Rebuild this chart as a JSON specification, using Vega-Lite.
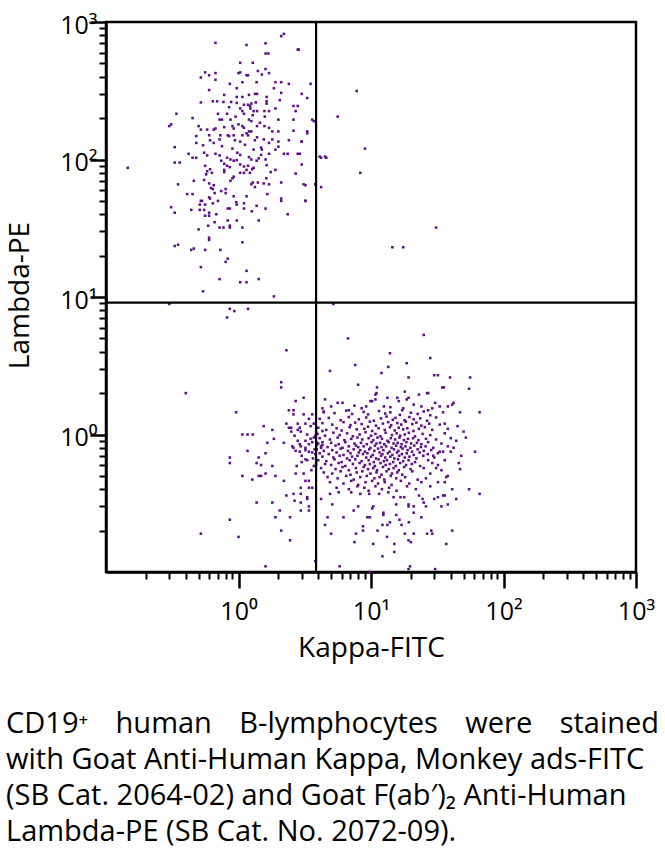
{
  "$schema": "https://vega.github.io/schema/vega-lite/v6.json",
  "autosize": {"type": "none"},
  "padding": {"left": 106, "top": 22, "right": 29, "bottom": 284},
  "width": 530,
  "height": 550,
  "background": "white",
  "config": {
    "view": {"stroke": "black", "strokeWidth": 2.5},
    "font": "Open Sans",
    "axis": {"grid": false, "domainColor": "black", "domainWidth": 2.5, "tickColor": "black", "labelColor": "black", "titleColor": "black", "labelFont": "Open Sans", "titleFont": "Open Sans", "titleFontWeight": "normal", "labelFontSize": 25, "titleFontSize": 28, "labelOverlap": false, "labelFlush": false, "labelBound": false}
  },
  "title": {
    "text": ["CD19⁺ \u00a0\u00a0\u2009human \u00a0\u00a0\u2009B-lymphocytes \u00a0\u00a0\u2009were \u00a0\u00a0\u2009stained", "with Goat Anti-Human Kappa, Monkey ads-FITC", "(SB Cat. 2064-02) and Goat F(ab′)₂ Anti-Human", "Lambda-PE (SB Cat. No. 2072-09)."],
    "orient": "bottom", "anchor": "start", "font": "Open Sans", "fontSize": 29, "fontWeight": "normal", "color": "black", "lineHeight": 36, "offset": 48
  },
  "datasets": {
    "cells": [
      {"x":2.1,"y":790},{"x":2.2,"y":820},{"x":0.67,"y":705},{"x":1.15,"y":680},{"x":1.6,"y":700},{"x":1.6,"y":590},{"x":1.68,"y":590},{"x":2.8,"y":630},{"x":1.03,"y":505},{"x":1.28,"y":505},
      {"x":0.56,"y":430},{"x":0.6,"y":410},{"x":0.67,"y":425},{"x":0.52,"y":395},{"x":0.67,"y":380},{"x":1.0,"y":425},{"x":1.03,"y":430},{"x":1.15,"y":410},{"x":1.18,"y":410},{"x":1.4,"y":440},
      {"x":1.6,"y":455},{"x":1.5,"y":415},{"x":1.7,"y":425},{"x":1.9,"y":365},{"x":2.1,"y":365},{"x":2.4,"y":355},{"x":3.5,"y":355},{"x":0.86,"y":355},{"x":1.07,"y":365},{"x":1.37,"y":365},
      {"x":0.6,"y":320},{"x":0.97,"y":330},{"x":1.85,"y":330},{"x":0.78,"y":295},{"x":0.97,"y":285},{"x":1.07,"y":285},{"x":1.2,"y":295},{"x":1.33,"y":300},{"x":1.38,"y":300},{"x":1.63,"y":285},
      {"x":2.1,"y":305},{"x":3.0,"y":300},{"x":3.3,"y":280},{"x":0.52,"y":260},{"x":0.64,"y":265},{"x":0.69,"y":265},{"x":0.77,"y":262},{"x":0.88,"y":262},{"x":0.97,"y":258},{"x":1.1,"y":250},
      {"x":1.18,"y":250},{"x":1.25,"y":255},{"x":1.63,"y":265},{"x":1.63,"y":255},{"x":2.05,"y":270},{"x":2.6,"y":245},{"x":2.8,"y":245},{"x":0.34,"y":215},{"x":0.45,"y":200},{"x":0.3,"y":175},
      {"x":0.33,"y":123},{"x":0.7,"y":215},{"x":0.72,"y":195},{"x":0.75,"y":195},{"x":0.82,"y":215},{"x":0.87,"y":195},{"x":1.03,"y":235},{"x":1.07,"y":225},{"x":1.22,"y":245},{"x":1.23,"y":235},
      {"x":1.1,"y":215},{"x":1.3,"y":225},{"x":1.38,"y":225},{"x":1.57,"y":225},{"x":1.58,"y":205},{"x":1.7,"y":225},{"x":1.9,"y":235},{"x":2.7,"y":225},{"x":2.0,"y":195},{"x":2.6,"y":195},
      {"x":3.6,"y":195},{"x":0.5,"y":175},{"x":0.52,"y":165},{"x":0.58,"y":165},{"x":0.65,"y":165},{"x":0.67,"y":168},{"x":0.78,"y":172},{"x":0.9,"y":175},{"x":0.92,"y":168},{"x":1.07,"y":175},
      {"x":1.1,"y":170},{"x":1.2,"y":195},{"x":1.25,"y":190},{"x":1.2,"y":160},{"x":1.25,"y":160},{"x":1.38,"y":175},{"x":1.57,"y":175},{"x":1.7,"y":170},{"x":1.8,"y":160},{"x":2.0,"y":160},
      {"x":2.6,"y":162},{"x":3.3,"y":155},{"x":0.48,"y":148},{"x":0.48,"y":132},{"x":0.54,"y":127},{"x":0.6,"y":150},{"x":0.61,"y":138},{"x":0.65,"y":132},{"x":0.72,"y":140},{"x":0.73,"y":150},
      {"x":0.83,"y":150},{"x":0.85,"y":148},{"x":0.92,"y":150},{"x":0.94,"y":138},{"x":1.03,"y":135},{"x":1.07,"y":150},{"x":1.15,"y":155},{"x":1.18,"y":150},{"x":1.33,"y":138},{"x":1.38,"y":145},
      {"x":1.48,"y":122},{"x":1.5,"y":118},{"x":1.7,"y":132},{"x":1.8,"y":140},{"x":2.0,"y":135},{"x":2.0,"y":124},{"x":2.4,"y":138},{"x":3.0,"y":135},{"x":1.9,"y":118},{"x":2.35,"y":110},
      {"x":2.2,"y":110},{"x":0.42,"y":110},{"x":0.45,"y":103},{"x":0.48,"y":103},{"x":0.55,"y":112},{"x":0.58,"y":107},{"x":0.67,"y":110},{"x":0.72,"y":107},{"x":0.82,"y":103},{"x":0.87,"y":100},
      {"x":0.98,"y":112},{"x":1.03,"y":108},{"x":1.2,"y":104},{"x":1.25,"y":100},{"x":1.42,"y":102},{"x":1.48,"y":108},{"x":1.7,"y":110},{"x":2.8,"y":110},{"x":2.9,"y":110},{"x":0.33,"y":95},{"x":0.36,"y":95},
      {"x":0.56,"y":90},{"x":0.74,"y":98},{"x":0.78,"y":93},{"x":0.82,"y":90},{"x":0.86,"y":88},{"x":0.78,"y":84},{"x":0.78,"y":81},{"x":0.92,"y":98},{"x":0.97,"y":99},{"x":1.03,"y":92},{"x":1.1,"y":89},
      {"x":1.18,"y":90},{"x":1.37,"y":98},{"x":1.63,"y":91},{"x":1.9,"y":84},{"x":0.58,"y":82},{"x":0.61,"y":85},{"x":0.63,"y":80},{"x":0.57,"y":78},{"x":1.03,"y":80},{"x":1.1,"y":80},{"x":1.15,"y":84},
      {"x":1.22,"y":80},{"x":1.27,"y":85},{"x":1.3,"y":87},{"x":1.75,"y":81},{"x":2.7,"y":79},{"x":0.46,"y":70},{"x":0.35,"y":66},{"x":0.55,"y":71},{"x":0.6,"y":67},{"x":0.65,"y":65},{"x":0.64,"y":61},
      {"x":0.87,"y":70},{"x":0.9,"y":73},{"x":0.92,"y":75},{"x":0.8,"y":61},{"x":1.25,"y":66},{"x":1.28,"y":68},{"x":1.33,"y":63},{"x":1.4,"y":68},{"x":1.55,"y":67},{"x":1.62,"y":73},{"x":1.7,"y":66},
      {"x":2.1,"y":68},{"x":3.1,"y":66},{"x":0.41,"y":56},{"x":0.45,"y":56},{"x":0.62,"y":62},{"x":0.66,"y":57},{"x":0.74,"y":59},{"x":0.8,"y":57},{"x":0.6,"y":53},{"x":0.61,"y":52},{"x":0.52,"y":50},
      {"x":0.53,"y":50},{"x":0.51,"y":47},{"x":0.56,"y":47},{"x":0.64,"y":48},{"x":0.7,"y":50},{"x":0.92,"y":54},{"x":0.96,"y":49},{"x":1.15,"y":54},{"x":1.65,"y":56},{"x":2.1,"y":52},{"x":2.1,"y":50},
      {"x":3.2,"y":50},{"x":0.31,"y":45},{"x":0.33,"y":41},{"x":0.44,"y":43},{"x":0.51,"y":43},{"x":0.55,"y":43},{"x":0.6,"y":41},{"x":0.56,"y":39},{"x":0.6,"y":39},{"x":0.68,"y":40},{"x":0.83,"y":44},
      {"x":0.86,"y":44},{"x":1.1,"y":44},{"x":1.26,"y":42},{"x":1.37,"y":46},{"x":1.6,"y":44},{"x":2.35,"y":40},{"x":0.97,"y":47},{"x":1.1,"y":48},{"x":0.83,"y":36},{"x":0.97,"y":36},{"x":1.42,"y":36},
      {"x":0.5,"y":31},{"x":0.59,"y":33},{"x":0.66,"y":35},{"x":0.72,"y":32},{"x":0.77,"y":32},{"x":0.86,"y":33},{"x":0.86,"y":32},{"x":1.07,"y":32},{"x":0.6,"y":27},{"x":0.6,"y":26},{"x":1.07,"y":25},
      {"x":0.33,"y":23.5},{"x":0.35,"y":24},{"x":0.44,"y":22},{"x":0.46,"y":22.5},{"x":0.56,"y":22},{"x":0.73,"y":22},{"x":0.83,"y":19},{"x":0.8,"y":18},{"x":0.52,"y":16.5},{"x":1.15,"y":15.5},
      {"x":0.72,"y":13.5},{"x":1.03,"y":12.8},{"x":1.15,"y":12.8},{"x":1.42,"y":13.5},{"x":0.54,"y":11},{"x":1.85,"y":10.1},{"x":0.3,"y":8.9},{"x":0.86,"y":8.2},{"x":0.93,"y":7.9},{"x":1.18,"y":8.2},
      {"x":0.82,"y":7.1},{"x":0.146,"y":87},{"x":0.31,"y":180},{"x":2.85,"y":630},{"x":4.1,"y":105},{"x":4.5,"y":105},{"x":3.8,"y":66},{"x":4.2,"y":63},
      {"x":7.8,"y":315},{"x":5.6,"y":205},{"x":3.7,"y":190},{"x":3.3,"y":160},{"x":3.0,"y":135},{"x":9.0,"y":120},{"x":4.2,"y":103},{"x":4.6,"y":103},{"x":8.3,"y":80},{"x":3.0,"y":92},{"x":3.2,"y":65},{"x":3.2,"y":50},{"x":31,"y":32},{"x":14.5,"y":23},{"x":17.5,"y":23},{"x":5.2,"y":8.9},
      {"x":1.12,"y":128},{"x":1.3,"y":118},{"x":1.45,"y":185},{"x":0.95,"y":205},{"x":1.35,"y":260},{"x":0.85,"y":240},{"x":1.55,"y":140},{"x":1.0,"y":180},{"x":1.28,"y":210},{"x":0.75,"y":125},{"x":1.6,"y":100},{"x":0.9,"y":120},

      {"x":2.3,"y":4.1},{"x":4.9,"y":2.9},{"x":2.1,"y":2.4},{"x":2.1,"y":2.2},{"x":0.4,"y":2.0},{"x":3.1,"y":1.85},{"x":2.7,"y":1.75},{"x":4.5,"y":1.8},{"x":2.4,"y":1.5},{"x":2.6,"y":1.5},
      {"x":0.96,"y":1.45},{"x":4.4,"y":1.45},{"x":2.6,"y":1.4},{"x":3.1,"y":1.4},{"x":3.6,"y":1.4},{"x":3.4,"y":1.3},{"x":4.1,"y":1.3},{"x":2.3,"y":1.2},{"x":2.8,"y":1.2},{"x":3.2,"y":1.2},
      {"x":1.55,"y":1.15},{"x":2.4,"y":1.12},{"x":2.5,"y":1.12},{"x":2.9,"y":1.12},{"x":1.8,"y":1.08},{"x":2.5,"y":1.05},{"x":2.8,"y":1.08},{"x":2.95,"y":1.05},{"x":1.07,"y":1.0},{"x":1.17,"y":1.0},
      {"x":1.28,"y":1.0},{"x":3.3,"y":1.0},{"x":3.5,"y":0.93},{"x":1.85,"y":0.93},{"x":2.65,"y":0.98},{"x":2.8,"y":0.9},{"x":3.8,"y":0.98},{"x":4.3,"y":1.06},{"x":1.65,"y":0.87},{"x":2.2,"y":0.87},
      {"x":2.55,"y":0.82},{"x":2.9,"y":0.85},{"x":2.95,"y":0.82},{"x":3.2,"y":0.8},{"x":3.9,"y":0.87},{"x":4.3,"y":0.84},{"x":4.2,"y":0.8},
      {"x":1.17,"y":0.76},{"x":1.6,"y":0.73},{"x":2.6,"y":0.8},{"x":2.7,"y":0.76},{"x":3.2,"y":0.77},{"x":3.4,"y":0.75},{"x":3.6,"y":0.74},{"x":0.86,"y":0.68},{"x":0.86,"y":0.62},{"x":1.42,"y":0.68},
      {"x":1.37,"y":0.62},{"x":1.48,"y":0.6},{"x":1.8,"y":0.59},{"x":3.0,"y":0.63},{"x":3.2,"y":0.66},{"x":2.75,"y":0.59},{"x":3.7,"y":0.59},{"x":3.85,"y":0.62},{"x":1.07,"y":0.5},{"x":1.42,"y":0.5},
      {"x":1.48,"y":0.5},{"x":1.6,"y":0.52},{"x":1.9,"y":0.5},{"x":2.7,"y":0.52},{"x":3.1,"y":0.52},{"x":1.27,"y":0.47},{"x":2.2,"y":0.46},{"x":3.2,"y":0.46},{"x":3.4,"y":0.46},{"x":2.95,"y":0.41},
      {"x":3.4,"y":0.41},{"x":3.6,"y":0.41},{"x":2.95,"y":0.37},{"x":2.6,"y":0.37},{"x":3.3,"y":0.35},{"x":3.3,"y":0.34},{"x":2.3,"y":0.36},{"x":2.65,"y":0.33},{"x":2.95,"y":0.32},{"x":3.4,"y":0.3},
      {"x":3.4,"y":0.28},{"x":2.95,"y":0.28},{"x":1.37,"y":0.32},{"x":1.8,"y":0.32},{"x":2.05,"y":0.28},{"x":1.9,"y":0.25},{"x":2.45,"y":0.25},{"x":0.86,"y":0.24},{"x":2.1,"y":0.2},{"x":0.52,"y":0.19},
      {"x":1.0,"y":0.18},{"x":2.45,"y":0.17},{"x":1.6,"y":0.11},{"x":3.8,"y":0.12},{"x":4.9,"y":0.37},{"x":4.7,"y":0.25},{"x":4.5,"y":0.22},{"x":5.0,"y":0.19},{"x":4.2,"y":0.34},
      {"x":6.7,"y":5.0},{"x":25,"y":5.3},{"x":13.9,"y":3.9},{"x":7.6,"y":3.2},{"x":13.5,"y":3.1},{"x":18.6,"y":3.3},{"x":28,"y":3.6},{"x":12,"y":2.8},{"x":19.2,"y":2.6},{"x":30,"y":2.7},
      {"x":32,"y":2.7},{"x":39.5,"y":2.6},{"x":56,"y":2.6},{"x":8.0,"y":2.3},{"x":11.1,"y":2.2},{"x":34.5,"y":2.2},{"x":35.5,"y":2.2},{"x":55,"y":2.15},{"x":18,"y":2.05},{"x":26.5,"y":2.0},
      {"x":27,"y":2.0},{"x":23,"y":1.95},{"x":11,"y":2.0},{"x":10.8,"y":1.95},{"x":13.3,"y":1.85},{"x":15.8,"y":1.85},{"x":19.2,"y":1.85},{"x":10.8,"y":1.8},{"x":9.9,"y":1.75},{"x":10.2,"y":1.75},
      {"x":16.2,"y":1.75},{"x":5.6,"y":1.7},{"x":6.1,"y":1.7},{"x":18.6,"y":1.8},{"x":30.5,"y":1.7},{"x":42,"y":1.7},{"x":41,"y":1.65},{"x":38,"y":1.6},{"x":66,"y":1.45},{"x":47,"y":1.45},{"x":33,"y":1.6},{"x":35,"y":1.45},
      {"x":42,"y":0.8},{"x":61,"y":0.75},{"x":46,"y":0.62},{"x":47,"y":0.56},{"x":41,"y":0.4},{"x":55,"y":0.4},{"x":66,"y":0.37},{"x":34,"y":0.3},{"x":38,"y":0.31},{"x":44,"y":0.34},{"x":36,"y":0.36},
      {"x":41,"y":0.2},{"x":37,"y":0.16},{"x":30.5,"y":0.105},{"x":19.7,"y":0.11},{"x":19.2,"y":0.105},{"x":9.8,"y":0.1},{"x":5.8,"y":0.11},{"x":12.2,"y":0.13},{"x":10.4,"y":0.16},{"x":15,"y":0.16},
      {"x":15,"y":0.14},{"x":19.2,"y":0.17},{"x":20,"y":0.165},{"x":26.5,"y":0.19},{"x":29,"y":0.19},{"x":28.5,"y":0.2},{"x":21,"y":0.19},{"x":18,"y":0.19},{"x":13.2,"y":0.18},{"x":7.5,"y":0.165},
      {"x":7.7,"y":0.19},{"x":8.7,"y":0.215},{"x":8.7,"y":0.2},{"x":11.2,"y":0.2},{"x":12.2,"y":0.22},{"x":13.3,"y":0.22},{"x":13.9,"y":0.23},{"x":17,"y":0.22},{"x":19.3,"y":0.23},{"x":16.4,"y":0.24},
      {"x":24,"y":0.25},{"x":21,"y":0.27},{"x":15.5,"y":0.26},{"x":6.2,"y":0.25},{"x":9.4,"y":0.25},{"x":9.8,"y":0.25},{"x":12.4,"y":0.27},{"x":12.4,"y":0.26},{"x":19.2,"y":0.31},{"x":19.2,"y":0.3},
      {"x":5.1,"y":0.31},{"x":8.0,"y":0.3},{"x":10.4,"y":0.3},{"x":10.2,"y":0.29},{"x":7.4,"y":0.28},{"x":15.5,"y":0.31},{"x":21,"y":0.3},{"x":26,"y":0.3},{"x":25,"y":0.32},{"x":30,"y":0.34},
      {"x":32,"y":0.35},{"x":35,"y":0.36},{"x":23,"y":0.36},{"x":24.5,"y":0.34},{"x":16.7,"y":0.35},{"x":17.8,"y":0.35},{"x":14.8,"y":0.35},{"x":13.5,"y":0.38},{"x":5.7,"y":0.38},{"x":7.1,"y":0.38},
      {"x":8.3,"y":0.37},{"x":9.7,"y":0.37},{"x":11.5,"y":0.37},
      {"x":4.3,"y":1.55},{"x":5.0,"y":1.6},{"x":6.8,"y":1.5},{"x":7.5,"y":1.62},{"x":8.5,"y":1.55},{"x":9.2,"y":1.6},{"x":12.5,"y":1.6},{"x":14,"y":1.58},{"x":17.5,"y":1.55},{"x":21,"y":1.65},
      {"x":24,"y":1.6},{"x":27,"y":1.5},{"x":29,"y":1.55},{"x":36,"y":1.2},{"x":38,"y":1.1},{"x":45,"y":1.15},{"x":50,"y":1.05},{"x":52,"y":0.95},{"x":44,"y":0.9},{"x":40,"y":0.75},{"x":48,"y":0.7},
      {"x":36,"y":0.65},{"x":38,"y":0.5},{"x":34,"y":0.55},{"x":32,"y":0.45},{"x":28,"y":0.42},{"x":26,"y":0.48},{"x":29.5,"y":0.7},{"x":33,"y":0.75},{"x":35,"y":0.75},{"x":29,"y":0.62},{"x":31,"y":0.57},
      {"x":32,"y":0.6},{"x":37,"y":0.49},{"x":36,"y":0.45},
      {"x":4.4,"y":1.47},{"x":5.3,"y":1.43},{"x":6.5,"y":1.49},{"x":7.2,"y":1.41},{"x":8.8,"y":1.46},{"x":9.5,"y":1.4},{"x":11.5,"y":1.48},{"x":12.8,"y":1.42},{"x":14,"y":1.45},{"x":16.5,"y":1.39},{"x":17.2,"y":1.5},{"x":20,"y":1.44},{"x":22.5,"y":1.41},{"x":25,"y":1.47},{"x":28,"y":1.38},
      {"x":4.8,"y":1.32},{"x":5.9,"y":1.27},{"x":6.8,"y":1.34},{"x":8.1,"y":1.29},{"x":9.2,"y":1.33},{"x":10.5,"y":1.26},{"x":11.9,"y":1.31},{"x":13.1,"y":1.35},{"x":14.6,"y":1.28},{"x":15.3,"y":1.32},{"x":17.9,"y":1.27},{"x":19.5,"y":1.34},{"x":21,"y":1.29},{"x":23.5,"y":1.31},{"x":26.5,"y":1.26},{"x":31,"y":1.33},
      {"x":4.3,"y":1.21},{"x":5.1,"y":1.18},{"x":6.2,"y":1.23},{"x":7.0,"y":1.17},{"x":7.6,"y":1.22},{"x":8.5,"y":1.19},{"x":9.8,"y":1.24},{"x":10.9,"y":1.16},{"x":12.3,"y":1.2},{"x":13.5,"y":1.23},{"x":14.2,"y":1.17},{"x":15.8,"y":1.21},{"x":16.9,"y":1.18},{"x":18.3,"y":1.24},{"x":20.5,"y":1.19},{"x":22,"y":1.22},{"x":24,"y":1.16},{"x":27.5,"y":1.2},{"x":33,"y":1.18},
      {"x":4.0,"y":1.12},{"x":4.6,"y":1.08},{"x":5.5,"y":1.11},{"x":6.0,"y":1.07},{"x":6.9,"y":1.13},{"x":7.8,"y":1.09},{"x":8.9,"y":1.1},{"x":9.5,"y":1.14},{"x":10.2,"y":1.06},{"x":11.4,"y":1.11},{"x":12.7,"y":1.08},{"x":13.9,"y":1.13},{"x":15.1,"y":1.07},{"x":16.2,"y":1.12},{"x":17.5,"y":1.09},{"x":18.8,"y":1.11},{"x":20.9,"y":1.06},{"x":23,"y":1.1},{"x":25.5,"y":1.13},{"x":29,"y":1.08},
      {"x":3.95,"y":1.01},{"x":4.5,"y":0.98},{"x":5.2,"y":1.03},{"x":5.8,"y":0.99},{"x":6.6,"y":1.02},{"x":7.3,"y":0.97},{"x":8.2,"y":1.0},{"x":9.1,"y":1.04},{"x":10,"y":0.98},{"x":10.8,"y":1.01},{"x":11.8,"y":0.97},{"x":12.9,"y":1.03},{"x":14.4,"y":0.99},{"x":15.6,"y":1.02},{"x":16.6,"y":0.98},{"x":18,"y":1.0},{"x":19.3,"y":1.03},{"x":21.5,"y":0.97},{"x":24.5,"y":1.01},{"x":28,"y":0.99},{"x":36,"y":1.02},
      {"x":4.1,"y":0.94},{"x":4.9,"y":0.92},{"x":5.6,"y":0.95},{"x":6.3,"y":0.91},{"x":7.1,"y":0.93},{"x":7.9,"y":0.95},{"x":8.6,"y":0.92},{"x":9.6,"y":0.94},{"x":10.4,"y":0.91},{"x":11.2,"y":0.95},{"x":12.1,"y":0.93},{"x":13.3,"y":0.9},{"x":14.1,"y":0.94},{"x":15.2,"y":0.92},{"x":16.4,"y":0.95},{"x":17.7,"y":0.91},{"x":19,"y":0.93},{"x":20.8,"y":0.94},{"x":22.8,"y":0.91},{"x":26,"y":0.93},{"x":31,"y":0.92},{"x":40,"y":0.94},
      {"x":4.0,"y":0.86},{"x":4.3,"y":0.88},{"x":5.0,"y":0.87},{"x":5.7,"y":0.85},{"x":6.4,"y":0.88},{"x":7.5,"y":0.86},{"x":8.4,"y":0.87},{"x":9.3,"y":0.85},{"x":10.1,"y":0.88},{"x":11.0,"y":0.86},{"x":11.7,"y":0.87},{"x":12.6,"y":0.85},{"x":13.6,"y":0.88},{"x":14.8,"y":0.86},{"x":15.9,"y":0.87},{"x":17,"y":0.85},{"x":18.5,"y":0.88},{"x":20.1,"y":0.86},{"x":22.2,"y":0.87},{"x":24,"y":0.85},{"x":27,"y":0.88},{"x":34,"y":0.86},
      {"x":4.2,"y":0.82},{"x":4.7,"y":0.81},{"x":5.4,"y":0.83},{"x":6.1,"y":0.8},{"x":6.8,"y":0.82},{"x":7.7,"y":0.83},{"x":8.0,"y":0.81},{"x":8.8,"y":0.82},{"x":9.9,"y":0.8},{"x":10.7,"y":0.83},{"x":12.0,"y":0.81},{"x":13.0,"y":0.82},{"x":14.3,"y":0.8},{"x":15.5,"y":0.83},{"x":16.8,"y":0.81},{"x":18.2,"y":0.82},{"x":19.8,"y":0.8},{"x":21.2,"y":0.83},{"x":23.8,"y":0.81},{"x":25.8,"y":0.82},{"x":29.5,"y":0.8},{"x":38,"y":0.82},
      {"x":3.9,"y":0.78},{"x":4.4,"y":0.76},{"x":5.1,"y":0.77},{"x":5.9,"y":0.79},{"x":6.7,"y":0.76},{"x":7.4,"y":0.78},{"x":8.3,"y":0.77},{"x":9.0,"y":0.75},{"x":9.7,"y":0.78},{"x":10.6,"y":0.76},{"x":11.3,"y":0.79},{"x":12.4,"y":0.77},{"x":13.8,"y":0.75},{"x":14.9,"y":0.78},{"x":16.1,"y":0.76},{"x":17.3,"y":0.79},{"x":18.9,"y":0.77},{"x":20.4,"y":0.75},{"x":22.5,"y":0.78},{"x":25,"y":0.76},{"x":28.5,"y":0.77},
      {"x":4.1,"y":0.73},{"x":4.8,"y":0.72},{"x":5.5,"y":0.74},{"x":6.2,"y":0.71},{"x":7.0,"y":0.73},{"x":8.1,"y":0.74},{"x":8.7,"y":0.72},{"x":9.4,"y":0.73},{"x":10.3,"y":0.71},{"x":11.6,"y":0.74},{"x":12.2,"y":0.72},{"x":13.4,"y":0.73},{"x":14.5,"y":0.71},{"x":15.7,"y":0.74},{"x":17.1,"y":0.72},{"x":18.6,"y":0.73},{"x":21,"y":0.71},{"x":23.3,"y":0.74},{"x":26.8,"y":0.72},{"x":32,"y":0.73},
      {"x":4.3,"y":0.69},{"x":5.2,"y":0.68},{"x":5.8,"y":0.7},{"x":6.6,"y":0.67},{"x":7.2,"y":0.69},{"x":7.9,"y":0.7},{"x":9.2,"y":0.68},{"x":10.0,"y":0.69},{"x":10.9,"y":0.67},{"x":11.9,"y":0.7},{"x":12.8,"y":0.68},{"x":14.0,"y":0.69},{"x":15.0,"y":0.67},{"x":16.3,"y":0.7},{"x":18.0,"y":0.68},{"x":19.5,"y":0.69},{"x":22,"y":0.67},{"x":24.8,"y":0.7},{"x":30,"y":0.68},
      {"x":4.0,"y":0.65},{"x":4.6,"y":0.64},{"x":5.3,"y":0.66},{"x":6.0,"y":0.63},{"x":6.9,"y":0.65},{"x":7.6,"y":0.66},{"x":8.5,"y":0.64},{"x":9.6,"y":0.65},{"x":10.5,"y":0.63},{"x":11.4,"y":0.66},{"x":12.5,"y":0.64},{"x":13.2,"y":0.65},{"x":14.7,"y":0.63},{"x":16.0,"y":0.66},{"x":17.5,"y":0.64},{"x":19.2,"y":0.65},{"x":21.5,"y":0.63},{"x":27,"y":0.65},
      {"x":4.5,"y":0.61},{"x":5.0,"y":0.6},{"x":5.7,"y":0.62},{"x":6.4,"y":0.59},{"x":7.3,"y":0.61},{"x":8.2,"y":0.62},{"x":9.0,"y":0.6},{"x":9.8,"y":0.61},{"x":10.7,"y":0.59},{"x":11.8,"y":0.62},{"x":12.9,"y":0.6},{"x":13.9,"y":0.61},{"x":15.4,"y":0.59},{"x":16.6,"y":0.62},{"x":18.4,"y":0.6},{"x":20.3,"y":0.61},{"x":23.5,"y":0.59},
      {"x":4.2,"y":0.57},{"x":5.4,"y":0.56},{"x":6.1,"y":0.58},{"x":6.8,"y":0.55},{"x":7.7,"y":0.57},{"x":8.8,"y":0.58},{"x":9.5,"y":0.56},{"x":10.4,"y":0.57},{"x":11.1,"y":0.55},{"x":12.3,"y":0.58},{"x":13.6,"y":0.56},{"x":14.8,"y":0.57},{"x":16.2,"y":0.55},{"x":17.8,"y":0.58},{"x":19.9,"y":0.56},{"x":25,"y":0.57},
      {"x":4.4,"y":0.53},{"x":5.1,"y":0.52},{"x":5.9,"y":0.54},{"x":7.0,"y":0.51},{"x":7.8,"y":0.53},{"x":8.6,"y":0.54},{"x":9.9,"y":0.52},{"x":11.0,"y":0.53},{"x":12.0,"y":0.51},{"x":13.1,"y":0.54},{"x":14.4,"y":0.52},{"x":15.8,"y":0.53},{"x":17.2,"y":0.51},{"x":20.5,"y":0.54},{"x":28,"y":0.52},
      {"x":4.7,"y":0.49},{"x":5.6,"y":0.48},{"x":6.5,"y":0.5},{"x":7.4,"y":0.47},{"x":8.3,"y":0.49},{"x":9.3,"y":0.5},{"x":10.6,"y":0.48},{"x":11.6,"y":0.49},{"x":12.6,"y":0.47},{"x":14.1,"y":0.5},{"x":15.5,"y":0.48},{"x":18.1,"y":0.49},{"x":22.5,"y":0.47},
      {"x":4.9,"y":0.45},{"x":6.2,"y":0.44},{"x":7.1,"y":0.46},{"x":8.0,"y":0.43},{"x":9.1,"y":0.45},{"x":10.2,"y":0.46},{"x":11.3,"y":0.44},{"x":12.7,"y":0.45},{"x":14.3,"y":0.43},{"x":16.8,"y":0.46},{"x":19.4,"y":0.44},{"x":24,"y":0.45},
      {"x":5.5,"y":0.41},{"x":6.8,"y":0.4},{"x":7.9,"y":0.42},{"x":8.9,"y":0.41},{"x":9.6,"y":0.39},{"x":10.8,"y":0.42},{"x":12.1,"y":0.4},{"x":13.7,"y":0.41},{"x":15.6,"y":0.39},{"x":18.7,"y":0.42},{"x":21.8,"y":0.4},
      {"x":3.5,"y":1.15},{"x":3.7,"y":0.95},{"x":3.6,"y":0.88},{"x":3.75,"y":0.78},{"x":3.8,"y":0.72},{"x":3.65,"y":0.67},{"x":3.55,"y":0.55},{"x":3.85,"y":0.6},{"x":3.4,"y":0.85},{"x":3.2,"y":0.9},{"x":3.0,"y":0.7},{"x":3.3,"y":0.65},{"x":2.9,"y":0.75},{"x":3.85,"y":1.05},{"x":3.7,"y":1.2},{"x":3.9,"y":0.84}
    ],
    "gates": [{"kappa_gate": 3.85, "lambda_gate": 9.1}]
  },
  "layer": [
    {
      "data": {"name": "cells"},
      "mark": {"type": "square", "size": 6.5, "filled": true, "opacity": 1, "color": "#5e0f86"},
      "encoding": {
        "x": {"field": "x", "type": "quantitative", "title": "Kappa-FITC",
          "scale": {"type": "log", "domain": [0.1, 1000], "nice": false},
          "axis": {
            "values": [0.2,0.3,0.4,0.5,0.6,0.7,0.8,0.9,1,2,3,4,5,6,7,8,9,10,20,30,40,50,60,70,80,90,100,200,300,400,500,600,700,800,900,1000],
            "labelExpr": "abs(log(datum.value)/LN10 - round(log(datum.value)/LN10)) < 0.001 ? '10' + ['⁰','¹','²','³'][round(log(datum.value)/LN10)] : ''",
            "tickSize": {"condition": {"test": "abs(log(datum.value)/LN10 - round(log(datum.value)/LN10)) < 0.001", "value": 16}, "value": 7},
            "tickWidth": {"condition": {"test": "abs(log(datum.value)/LN10 - round(log(datum.value)/LN10)) < 0.001", "value": 2.5}, "value": 2},
            "labelPadding": 11,
            "titleY": 84, "titleBaseline": "alphabetic"
          }
        },
        "y": {"field": "y", "type": "quantitative", "title": "Lambda-PE",
          "scale": {"type": "log", "domain": [0.1, 1000], "nice": false},
          "axis": {
            "values": [0.2,0.3,0.4,0.5,0.6,0.7,0.8,0.9,1,2,3,4,5,6,7,8,9,10,20,30,40,50,60,70,80,90,100,200,300,400,500,600,700,800,900,1000],
            "labelExpr": "abs(log(datum.value)/LN10 - round(log(datum.value)/LN10)) < 0.001 ? '10' + ['⁰','¹','²','³'][round(log(datum.value)/LN10)] : ''",
            "tickSize": {"condition": {"test": "abs(log(datum.value)/LN10 - round(log(datum.value)/LN10)) < 0.001", "value": 16}, "value": 7},
            "tickWidth": {"condition": {"test": "abs(log(datum.value)/LN10 - round(log(datum.value)/LN10)) < 0.001", "value": 2.5}, "value": 2},
            "labelPadding": -7, "labelOffset": 3, "labelBaseline": "middle",
            "titleX": -78, "titleY": 273, "titleBaseline": "alphabetic"
          }
        }
      }
    },
    {
      "data": {"name": "gates"},
      "mark": {"type": "rule", "color": "black", "strokeWidth": 2.2},
      "encoding": {"x": {"field": "kappa_gate", "type": "quantitative", "title": "Kappa-FITC"}}
    },
    {
      "data": {"name": "gates"},
      "mark": {"type": "rule", "color": "black", "strokeWidth": 2.2},
      "encoding": {"y": {"field": "lambda_gate", "type": "quantitative", "title": "Lambda-PE"}}
    }
  ]
}
